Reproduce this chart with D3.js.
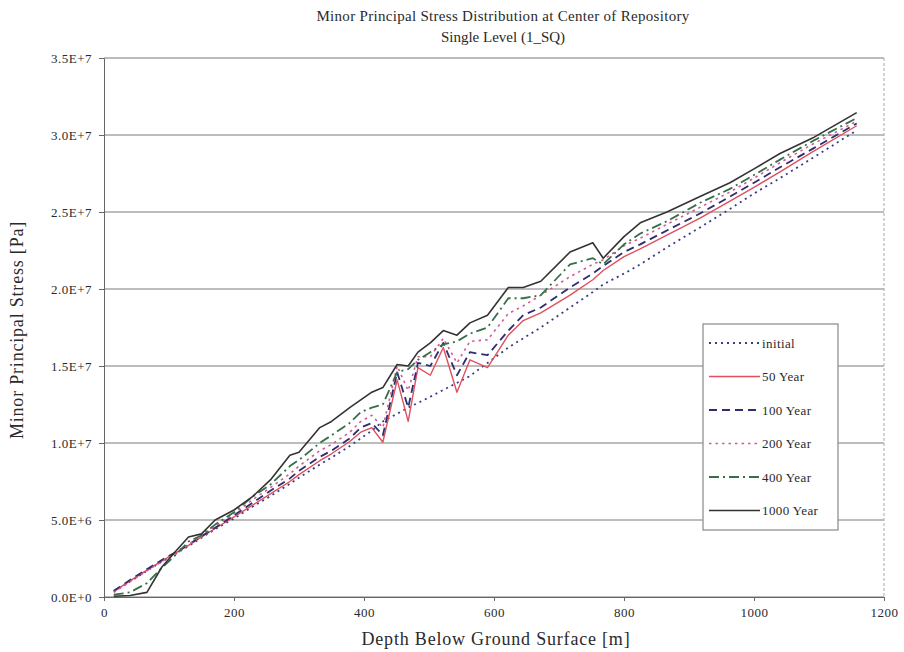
<!DOCTYPE html>
<html lang="en">
  <head>
    <meta charset="UTF-8" />
    <script src="https://d3js.org/d3.v7.min.js"></script>
    <title>Minor Principal Stress</title>
    <style>
      body {
        margin: 0;
        background: #fff;
      }
      svg text {
        font-family: "Liberation Serif", "DejaVu Serif", serif;
        fill: #2a2a2a;
      }
    </style>
  </head>
  <body>
    <svg id="chart" width="904" height="652"></svg>
    <script>
      // depth below ground surface [m]
      const depth = [15, 40, 66, 89, 112, 130, 150, 171, 200, 228, 256, 286, 300, 332, 350, 378, 395, 412, 429, 451, 468, 483, 502, 522, 543, 563, 590, 622, 645, 672, 717, 752, 768, 800, 825, 866, 917, 963, 1000, 1040, 1090, 1158];

      // minor principal stress, in units of 1E+6 Pa
      const initial = [0.35, 1.0, 1.7, 2.3, 2.85, 3.3, 3.85, 4.4, 5.1, 5.85, 6.55, 7.35, 7.75, 8.6, 9.05, 9.8, 10.3, 10.8, 11.4, 11.9, 12.3, 12.6, 13.0, 13.45, 13.9, 14.35, 15.2, 16.2, 16.8, 17.5, 18.8, 19.8, 20.3, 21.0, 21.6, 22.7, 24.0, 25.2, 26.2, 27.2, 28.5, 30.3];
      const year50 = [0.35, 1.05, 1.75, 2.35, 2.9, 3.35, 3.9, 4.45, 5.2, 5.95, 6.7, 7.5, 7.95, 8.85, 9.3, 10.1, 10.7, 11.0, 10.05, 14.1, 11.4, 14.9, 14.4, 16.2, 13.3, 15.4, 14.9, 17.0, 17.95, 18.45, 19.6, 20.6, 21.2, 22.1, 22.6, 23.5, 24.6, 25.7, 26.6, 27.6, 28.9, 30.6];
      const year100 = [0.4, 1.1, 1.8, 2.4, 2.95, 3.4, 3.95, 4.5, 5.3, 6.1, 6.9, 7.7, 8.2, 9.1, 9.5, 10.3, 11.0, 11.3, 10.5, 14.6, 12.3, 15.2, 15.0, 16.5, 14.4, 15.9, 15.7, 17.3, 18.3, 18.8, 20.1, 21.0, 21.5, 22.4, 22.9, 23.8, 24.9, 26.0, 26.9, 27.9, 29.1, 30.75];
      const year200 = [0.3, 1.0, 1.7, 2.3, 2.9, 3.4, 4.0, 4.6, 5.4, 6.3, 7.1, 8.0, 8.5, 9.5, 9.9, 10.7, 11.4, 11.8, 11.0, 15.0, 13.4, 15.6, 15.6, 16.8, 15.2, 16.6, 16.7, 18.4, 18.9, 19.6, 20.8, 21.6, 21.9, 22.8, 23.3, 24.2, 25.3, 26.3, 27.2, 28.2, 29.4, 30.9];
      const year400 = [0.15, 0.3, 0.9, 1.9, 2.8, 3.6, 4.0, 4.7, 5.5, 6.5, 7.3, 8.5, 8.9, 10.0, 10.5, 11.3, 12.0, 12.3, 12.5, 14.6, 14.8, 15.4, 15.9, 16.4, 16.6, 17.1, 17.5, 19.4, 19.4, 19.6, 21.6, 22.0, 21.6, 22.9, 23.6, 24.4, 25.6, 26.5, 27.4, 28.4, 29.6, 31.1];
      const year1000 = [0.05, 0.1, 0.3, 1.95, 3.05, 3.9, 4.1, 5.0, 5.65, 6.5, 7.6, 9.2, 9.4, 11.0, 11.4, 12.3, 12.8, 13.3, 13.6, 15.1, 15.0, 15.9, 16.5, 17.3, 17.0, 17.8, 18.3, 20.1, 20.1, 20.5, 22.4, 23.0, 22.0, 23.4, 24.3, 25.0, 26.0, 26.9, 27.8, 28.8, 29.8, 31.45];

      const seriesNames = ["initial", "50 Year", "100 Year", "200 Year", "400 Year", "1000 Year"];
      const xTicks = [0, 200, 400, 600, 800, 1000, 1200];
      const yTicks = [0, 5, 10, 15, 20, 25, 30, 35];
      const yTickLabels = ["0.0E+0", "5.0E+6", "1.0E+7", "1.5E+7", "2.0E+7", "2.5E+7", "3.0E+7", "3.5E+7"];

      const series = [initial, year50, year100, year200, year400, year1000];
      const styles = [
        { color: "#353b86", dash: "2,4", width: 1.8 },
        { color: "#e0505c", dash: null, width: 1.4 },
        { color: "#2c2e70", dash: "8,5", width: 1.8 },
        { color: "#d45a95", dash: "2.5,4", width: 1.6 },
        { color: "#357048", dash: "10,4,2,4", width: 1.8 },
        { color: "#333333", dash: null, width: 1.6 }
      ];

      const svg = d3.select("#chart");
      const margin = { top: 58, right: 20, bottom: 55, left: 104 };
      const width = 904 - margin.left - margin.right;
      const height = 652 - margin.top - margin.bottom;

      const x = d3.scaleLinear().domain([0, 1200]).range([0, width]);
      const y = d3.scaleLinear().domain([0, 35]).range([height, 0]);

      const g = svg.append("g").attr("transform", `translate(${margin.left},${margin.top})`);

      // horizontal gridlines
      g.append("g")
        .selectAll("line")
        .data(yTicks)
        .join("line")
        .attr("x1", 0)
        .attr("x2", width)
        .attr("y1", d => y(d))
        .attr("y2", d => y(d))
        .attr("stroke", "#7a7a7a")
        .attr("stroke-width", 1);

      // right border of plot area
      g.append("line")
        .attr("x1", width)
        .attr("x2", width)
        .attr("y1", 0)
        .attr("y2", height)
        .attr("stroke", "#aaa")
        .attr("stroke-dasharray", "3,2");

      const yAxis = g.append("g")
        .call(d3.axisLeft(y).tickValues(yTicks).tickSize(5).tickFormat((d, i) => yTickLabels[i]));
      yAxis.select(".domain").attr("stroke", "#666");
      yAxis.selectAll(".tick line").attr("stroke", "#666");
      yAxis.selectAll("text").attr("font-size", 13).attr("dx", -4).attr("fill", "#444").style("letter-spacing", "0.5px");

      const xAxis = g.append("g")
        .attr("transform", `translate(0,${height})`)
        .call(d3.axisBottom(x).tickValues(xTicks).tickSize(4).tickFormat(d3.format("d")));
      xAxis.select(".domain").attr("stroke", "#666");
      xAxis.selectAll(".tick line").attr("stroke", "#666");
      xAxis.selectAll("text").attr("font-size", 13).attr("dy", "1em").attr("fill", "#444").style("letter-spacing", "0.5px");

      const line = d3.line()
        .x((d, i) => x(depth[i]))
        .y(d => y(d));

      g.append("g")
        .selectAll("path")
        .data(series)
        .join("path")
        .attr("fill", "none")
        .attr("stroke", (d, i) => styles[i].color)
        .attr("stroke-width", (d, i) => styles[i].width)
        .attr("stroke-dasharray", (d, i) => styles[i].dash)
        .attr("stroke-linejoin", "round")
        .attr("d", line);

      // titles
      svg.append("text")
        .attr("x", 503)
        .attr("y", 21)
        .attr("text-anchor", "middle")
        .attr("font-size", 15)
        .style("letter-spacing", "0.3px")
        .text("Minor Principal Stress Distribution at Center of Repository");
      svg.append("text")
        .attr("x", 503)
        .attr("y", 42)
        .attr("text-anchor", "middle")
        .attr("font-size", 15)
        .text("Single Level (1_SQ)");

      svg.append("text")
        .attr("x", 496)
        .attr("y", 645)
        .attr("text-anchor", "middle")
        .attr("font-size", 18)
        .style("letter-spacing", "0.8px")
        .text("Depth Below Ground Surface [m]");

      svg.append("text")
        .attr("transform", "translate(23,330) rotate(-90)")
        .attr("text-anchor", "middle")
        .attr("font-size", 18)
        .style("letter-spacing", "0.8px")
        .text("Minor Principal Stress [Pa]");

      // legend
      const legend = svg.append("g").attr("transform", "translate(703,324)");
      legend.append("rect")
        .attr("width", 135)
        .attr("height", 206)
        .attr("fill", "#fff")
        .attr("stroke", "#888")
        .attr("stroke-width", 1.2);

      const item = legend.selectAll("g")
        .data(seriesNames)
        .join("g")
        .attr("transform", (d, i) => `translate(0,${19 + i * 33.5})`);
      item.append("line")
        .attr("x1", 6)
        .attr("x2", 57)
        .attr("stroke", (d, i) => styles[i].color)
        .attr("stroke-width", (d, i) => styles[i].width)
        .attr("stroke-dasharray", (d, i) => styles[i].dash);
      item.append("text")
        .attr("x", 59)
        .attr("dy", "0.35em")
        .attr("font-size", 13)
        .style("letter-spacing", "0.4px")
        .text(d => d);
    </script>
  </body>
</html>
